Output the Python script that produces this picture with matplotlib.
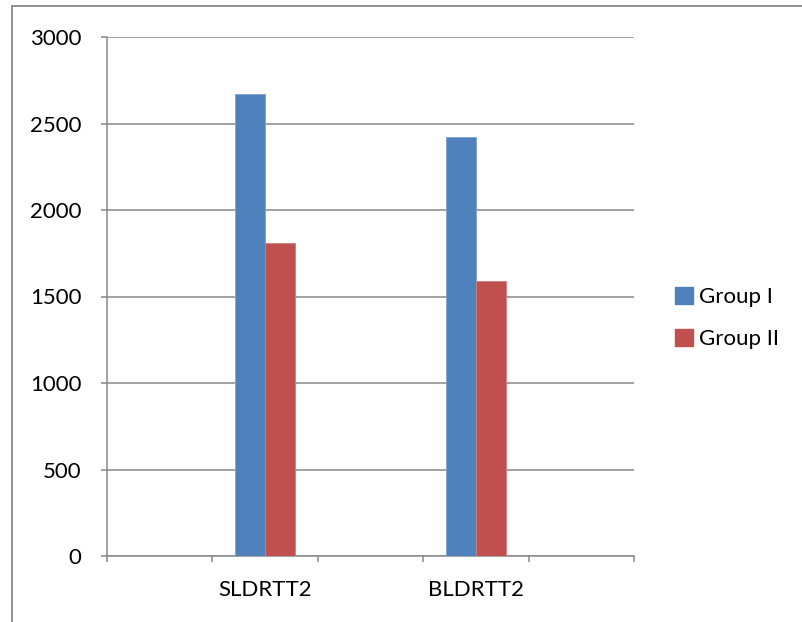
import numpy as np
import matplotlib
matplotlib.use("Agg")
import matplotlib.pyplot as plt
from matplotlib.patches import Patch
from matplotlib.lines import Line2D

# Category slots on the x axis (blank slots carry no data)
categories = ["", "SLDRTT2", "", "BLDRTT2", ""]
group_1 = [np.nan, 2670, np.nan, 2420, np.nan]
group_2 = [np.nan, 1810, np.nan, 1590, np.nan]
series_names = ["Group I", "Group II"]
y_ticks = [0, 500, 1000, 1500, 2000, 2500, 3000]

BLUE = "#4F81BD"
RED = "#C0504D"
GRID = "#898989"
FS = 16

plt.rcParams["font.family"] = ["Lato", "DejaVu Sans"]

fig = plt.figure(figsize=(8.02, 6.22), dpi=100)
ax = fig.add_axes([107 / 802, 1 - 556 / 622, (634 - 107) / 802, (556 - 37) / 622])

x = np.arange(len(categories))
bar_w = 1 / 3.5
ax.bar(x - bar_w / 2, group_1, width=bar_w, color=BLUE, edgecolor="#7FA3D1",
       linewidth=0.6, zorder=3)
ax.bar(x + bar_w / 2, group_2, width=bar_w, color=RED, edgecolor="#D27F7D",
       linewidth=0.6, zorder=3)

ax.set_xlim(-0.5, len(categories) - 0.5)
ax.set_ylim(0, 3000)
ax.set_yticks(y_ticks)
ax.set_yticklabels([str(v) for v in y_ticks], fontsize=FS)
ax.yaxis.grid(True, color=GRID, linewidth=1.1, zorder=0)

ax.set_xticks(x)
ax.set_xticklabels(categories, fontsize=FS)
ax.set_xticks(np.arange(-0.5, len(categories), 1.0), minor=True)
ax.tick_params(axis="x", which="major", length=0, pad=17.5)
ax.tick_params(axis="x", which="minor", length=4.3, width=1.1, color=GRID,
               direction="out")
ax.tick_params(axis="y", length=4.3, width=1.1, color=GRID, direction="out", pad=14)

for side in ["top", "right"]:
    ax.spines[side].set_visible(False)
for side in ["left", "bottom"]:
    ax.spines[side].set_color(GRID)
    ax.spines[side].set_linewidth(1.1)

handles = [Patch(facecolor=BLUE, edgecolor=BLUE), Patch(facecolor=RED, edgecolor=RED)]
fig.legend(handles, series_names, loc="center left",
           bbox_to_anchor=(655 / 802, 1 - 318 / 622), frameon=False,
           fontsize=FS, handlelength=0.8, handleheight=0.8,
           handletextpad=0.3, labelspacing=1.0)

# Outer chart border
fig.add_artist(Line2D([12 / 802, 1.0], [1 - 6 / 622, 1 - 6 / 622],
                      transform=fig.transFigure, color=GRID, linewidth=1.3))
fig.add_artist(Line2D([12 / 802, 12 / 802], [0.0, 1 - 6 / 622],
                      transform=fig.transFigure, color=GRID, linewidth=1.3))

fig.savefig("out.png", dpi=100)
